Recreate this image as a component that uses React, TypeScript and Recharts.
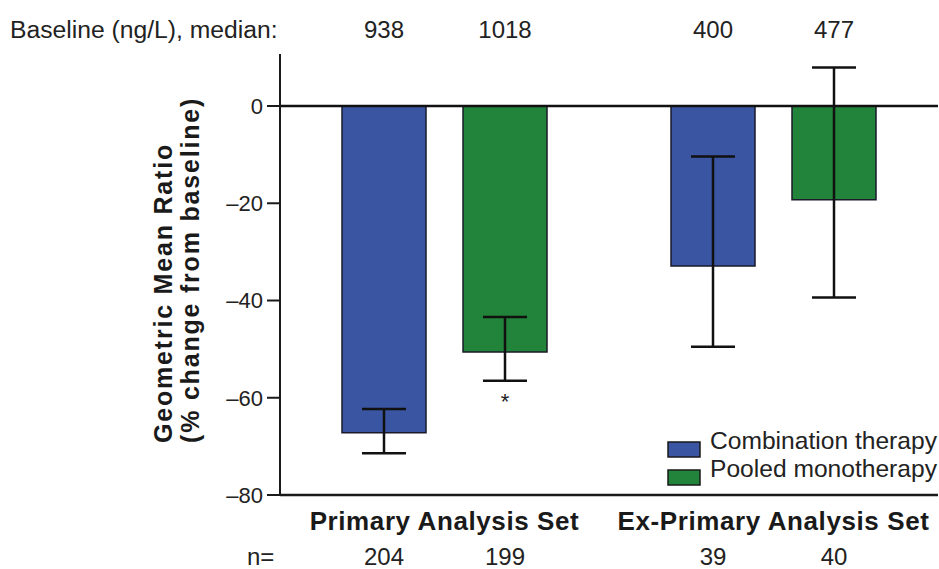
import React from "react";
import {
  Bar,
  BarChart,
  ErrorBar,
  LabelList,
  ReferenceLine,
  XAxis,
  YAxis,
} from "recharts";

const groups = ["Primary Analysis Set", "Ex-Primary Analysis Set"];

// geometric mean ratio (% change from baseline) with 95% CI
const comboGmr = [-67.2, -32.9];
const comboLow = [-71.4, -49.5];
const comboHigh = [-62.3, -10.4];
const pooledGmr = [-50.6, -19.3];
const pooledLow = [-56.5, -39.4];
const pooledHigh = [-43.4, 7.9];

const comboBaseline = [938, 400];
const pooledBaseline = [1018, 477];
const comboN = [204, 39];
const pooledN = [199, 40];
const pooledSig = ["*", ""];

const yTicks = [0, -20, -40, -60, -80];

const FONT = "'Liberation Sans', Arial, Helvetica, sans-serif";
const BLUE = "#3a56a3";
const GREEN = "#22843a";

const data = groups.map((g, i) => ({
  group: g,
  combo: comboGmr[i],
  comboErr: [comboGmr[i] - comboLow[i], comboHigh[i] - comboGmr[i]],
  pooled: pooledGmr[i],
  pooledErr: [pooledGmr[i] - pooledLow[i], pooledHigh[i] - pooledGmr[i]],
  comboBaseline: comboBaseline[i],
  pooledBaseline: pooledBaseline[i],
  comboN: comboN[i],
  pooledN: pooledN[i],
  pooledSig: pooledSig[i],
}));

const box = (p: any) => {
  const vb = p.viewBox ?? p;
  return { x: Number(vb.x), y: Number(vb.y), width: Number(vb.width), height: Number(vb.height) };
};

const topLabel = (p: any) => {
  const b = box(p);
  return (
    <text x={b.x + b.width / 2} y={38} textAnchor="middle" fontFamily={FONT} fontSize={24} fill="#222">
      {p.value}
    </text>
  );
};

const nLabel = (p: any) => {
  const b = box(p);
  return (
    <text x={b.x + b.width / 2} y={565} textAnchor="middle" fontFamily={FONT} fontSize={24} fill="#222">
      {p.value}
    </text>
  );
};

const sigLabel = (p: any) => {
  if (!p.value) return null;
  const b = box(p);
  const top = Math.min(b.y, b.y + b.height);
  const bottom = Math.max(b.y, b.y + b.height);
  const v = Math.abs(pooledGmr[p.index]);
  const ratio = (bottom - top) / v;
  const yLow = top + Math.abs(pooledLow[p.index]) * ratio;
  return (
    <text x={b.x + b.width / 2} y={yLow + 28} textAnchor="middle" fontFamily={FONT} fontSize={22} fill="#222">
      {p.value}
    </text>
  );
};

const GroupTick = (p: any) => (
  <text x={p.x} y={530} textAnchor="middle" fontFamily={FONT} fontSize={26} fontWeight="bold" letterSpacing={0.6} fill="#1a1a1a">
    {p.payload.value}
  </text>
);

const fmtTick = (v: number) => (v < 0 ? `\u2013${Math.abs(v)}` : `${v}`);

const Overlay = () => (
  <svg width={939} height={569} style={{ position: "absolute", left: 0, top: 0, pointerEvents: "none" }}>
    <text x={10} y={38} fontFamily={FONT} fontSize={24.7} fill="#222">
      Baseline (ng/L), median:
    </text>
    <text x={247} y={565} fontFamily={FONT} fontSize={24} fill="#222">
      n=
    </text>
    <g fontFamily={FONT} fontSize={25} fontWeight="bold" letterSpacing={1.8} fill="#1a1a1a" textAnchor="start">
      <text transform="translate(172,443) rotate(-90)">Geometric Mean Ratio</text>
      <text transform="translate(199,443) rotate(-90)">(% change from baseline)</text>
    </g>
    <rect x={668} y={442} width={32} height={15} fill={BLUE} stroke="#1a1a1a" strokeWidth={1.5} />
    <text x={710} y={449} fontFamily={FONT} fontSize={24.6} fill="#222">
      Combination therapy
    </text>
    <rect x={668} y={470} width={32} height={15} fill={GREEN} stroke="#1a1a1a" strokeWidth={1.5} />
    <text x={710} y={477} fontFamily={FONT} fontSize={24.6} fill="#222">
      Pooled monotherapy
    </text>
  </svg>
);

export default function App() {
  return (
    <div style={{ position: "absolute", left: 0, top: 0, width: 939, height: 569, background: "#fff" }}>
      <BarChart
        width={939}
        height={569}
        data={data}
        margin={{ top: 54, right: 1, left: 220, bottom: 44 }}
        barGap={37}
        barSize={84}
      >
        <XAxis
          dataKey="group"
          height={30}
          tickLine={false}
          axisLine={{ stroke: "#1a1a1a", strokeWidth: 2.5 }}
          tick={GroupTick}
          interval={0}
        />
        <YAxis
          width={60}
          domain={[-80, 10.7]}
          ticks={yTicks}
          tickFormatter={fmtTick}
          tickSize={13}
          tickMargin={4}
          allowDataOverflow
          axisLine={{ stroke: "#1a1a1a", strokeWidth: 2 }}
          tickLine={{ stroke: "#1a1a1a", strokeWidth: 2 }}
          tick={{ fontFamily: FONT, fontSize: 22, fill: "#222" }}
        />
        <Bar dataKey="combo" fill={BLUE} stroke="#1a1a2a" strokeWidth={1.5} isAnimationActive={false}>
          <ErrorBar dataKey="comboErr" width={22} stroke="#111" strokeWidth={2.5} direction="y" />
          <LabelList dataKey="comboBaseline" content={topLabel} />
          <LabelList dataKey="comboN" content={nLabel} />
        </Bar>
        <Bar dataKey="pooled" fill={GREEN} stroke="#1a1a2a" strokeWidth={1.5} isAnimationActive={false}>
          <ErrorBar dataKey="pooledErr" width={22} stroke="#111" strokeWidth={2.5} direction="y" />
          <LabelList dataKey="pooledBaseline" content={topLabel} />
          <LabelList dataKey="pooledN" content={nLabel} />
          <LabelList dataKey="pooledSig" content={sigLabel} />
        </Bar>
        <ReferenceLine y={0} stroke="#111" strokeWidth={2.5} />
      </BarChart>
      <Overlay />
    </div>
  );
}
